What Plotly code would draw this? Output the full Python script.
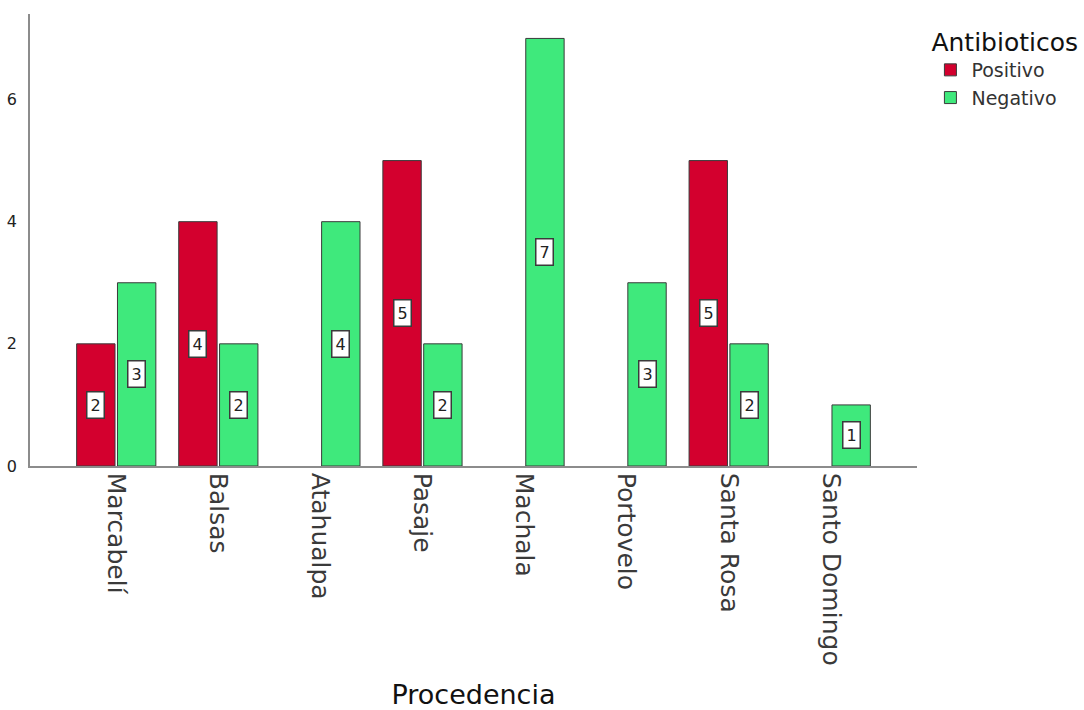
import plotly.graph_objects as go

# Frequency of antibiotic result by place of origin
procedencia = ["Marcabelí", "Balsas", "Atahualpa", "Pasaje", "Machala",
               "Portovelo", "Santa Rosa", "Santo Domingo"]
positivo = [2, 4, None, 5, None, None, 5, None]
negativo = [3, 2, 4, 2, 7, 3, 2, 1]

FONT = "DejaVu Sans"
RED = "#D3002E"
GREEN = "#3FE97C"
EDGE = "#3a3a3a"

idx = list(range(len(procedencia)))

fig = go.Figure()
fig.add_trace(go.Bar(x=idx, y=positivo, name="Positivo",
                     marker=dict(color=RED, line=dict(color=EDGE, width=1))))
fig.add_trace(go.Bar(x=idx, y=negativo, name="Negativo",
                     marker=dict(color=GREEN, line=dict(color=EDGE, width=1))))

# boxed count labels centred in each bar
annotations = []
for series, shift in ((positivo, -0.2), (negativo, 0.2)):
    for i, v in enumerate(series):
        if v:
            annotations.append(dict(
                x=i + shift, y=v / 2, xref="x", yref="y", text=str(v),
                showarrow=False, bgcolor="white", bordercolor=EDGE,
                borderwidth=1.5, borderpad=3,
                font=dict(family=FONT, size=16, color="#222")))

fig.update_layout(
    width=1084, height=710,
    paper_bgcolor="white", plot_bgcolor="white",
    margin=dict(l=30, r=167, t=14, b=244, autoexpand=False),
    barmode="group", bargap=0.2, bargroupgap=0.06,
    font=dict(family=FONT, color="#222"),
    annotations=annotations,
    legend=dict(
        title=dict(text="Antibioticos", font=dict(family=FONT, size=25, color="#111")),
        x=1.014, xanchor="left", y=0.99, yanchor="top",
        font=dict(family=FONT, size=19, color="#333"),
        bgcolor="rgba(0,0,0,0)", tracegroupgap=0, itemwidth=32,
    ),
    xaxis=dict(
        range=[-0.845, 7.845], tickmode="array", tickvals=idx,
        ticktext=procedencia, tickangle=90, automargin=False,
        tickfont=dict(family=FONT, size=25, color="#3a3a3a"),
        showline=True, linecolor="#8c8c8c", linewidth=1.5,
        showgrid=False, zeroline=False, ticks="",
        title=dict(text="Procedencia", font=dict(family=FONT, size=27, color="#111"),
                   standoff=29),
    ),
    yaxis=dict(
        range=[0, 7.4], tickvals=[0, 2, 4, 6], automargin=False,
        tickfont=dict(family=FONT, size=16, color="#222"),
        showline=True, linecolor="#8c8c8c", linewidth=1.5,
        showgrid=False, zeroline=False, ticks="", ticklabelstandoff=8,
    ),
)

fig.write_html("out.html")
